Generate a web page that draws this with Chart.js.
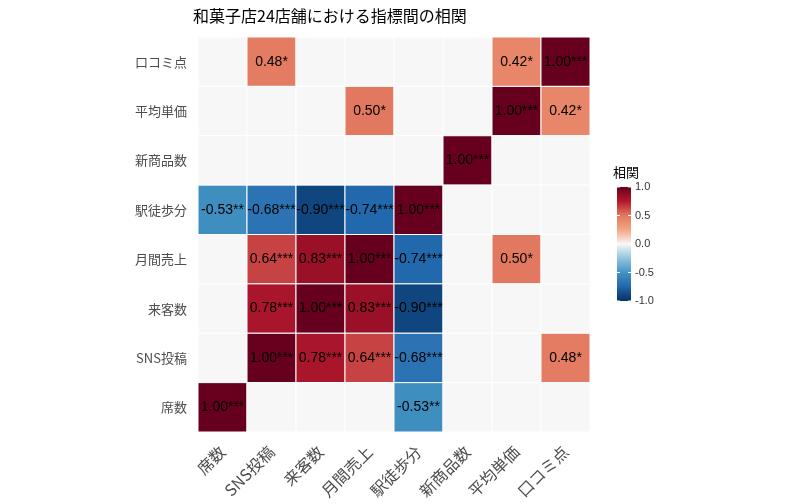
<!DOCTYPE html>
<html><head><meta charset="utf-8">
<script src="https://cdn.jsdelivr.net/npm/chart.js@4"></script>
<style>body{margin:0;background:#fff}</style>
</head><body>
<canvas id="c" width="798" height="504"></canvas>
<script>
const cols = ['席数','SNS投稿','来客数','月間売上','駅徒歩分','新商品数','平均単価','口コミ点'];
const rows = ['口コミ点','平均単価','新商品数','駅徒歩分','月間売上','来客数','SNS投稿','席数'];
// [row, col, r, stars]
const cells = [
  ['口コミ点','SNS投稿',0.48,'*'],['口コミ点','平均単価',0.42,'*'],['口コミ点','口コミ点',1.00,'***'],
  ['平均単価','月間売上',0.50,'*'],['平均単価','平均単価',1.00,'***'],['平均単価','口コミ点',0.42,'*'],
  ['新商品数','新商品数',1.00,'***'],
  ['駅徒歩分','席数',-0.53,'**'],['駅徒歩分','SNS投稿',-0.68,'***'],['駅徒歩分','来客数',-0.90,'***'],['駅徒歩分','月間売上',-0.74,'***'],['駅徒歩分','駅徒歩分',1.00,'***'],
  ['月間売上','SNS投稿',0.64,'***'],['月間売上','来客数',0.83,'***'],['月間売上','月間売上',1.00,'***'],['月間売上','駅徒歩分',-0.74,'***'],['月間売上','平均単価',0.50,'*'],
  ['来客数','SNS投稿',0.78,'***'],['来客数','来客数',1.00,'***'],['来客数','月間売上',0.83,'***'],['来客数','駅徒歩分',-0.90,'***'],
  ['SNS投稿','SNS投稿',1.00,'***'],['SNS投稿','来客数',0.78,'***'],['SNS投稿','月間売上',0.64,'***'],['SNS投稿','駅徒歩分',-0.68,'***'],['SNS投稿','口コミ点',0.48,'*'],
  ['席数','席数',1.00,'***'],['席数','駅徒歩分',-0.53,'**']
];
const legendTicks = [1.0,0.5,0.0,-0.5,-1.0];

const stops = [[-1,[5,48,97]],[-0.75,[33,102,172]],[-0.5,[67,147,195]],[-0.25,[146,197,222]],[0,[247,247,247]],
  [0.25,[244,165,130]],[0.5,[226,120,95]],[0.75,[178,24,43]],[1,[103,0,31]]];
function color(v){
  for(let i=0;i<stops.length-1;i++){
    const [a,ca]=stops[i],[b,cb]=stops[i+1];
    if(v<=b){const t=(v-a)/(b-a);return 'rgb('+ca.map((c,k)=>Math.round(c+(cb[k]-c)*t)).join(',')+')';}
  }
  return 'rgb(103,0,31)';
}

const heat = {
  id:'heat',
  beforeDatasetsDraw(chart){
    const {ctx, scales:{x,y}} = chart;
    const w = x.getPixelForValue(1)-x.getPixelForValue(0);
    const h = Math.abs(y.getPixelForValue(1)-y.getPixelForValue(0));
    const grid = {};
    cells.forEach(c=>grid[c[0]+'|'+c[1]]=c);
    ctx.save();
    rows.forEach((r,ri)=>cols.forEach((cn,ci)=>{
      const c = grid[r+'|'+cn];
      const px = x.getPixelForValue(ci), py = y.getPixelForValue(ri);
      ctx.fillStyle = c ? color(c[2]) : '#f7f7f7';
      ctx.fillRect(px-w/2,py-h/2,w,h);
      ctx.strokeStyle='#fff';ctx.lineWidth=1;
      ctx.strokeRect(px-w/2,py-h/2,w,h);
    }));
    ctx.fillStyle='#000';ctx.font='14px Arial, "Noto Sans CJK JP"';ctx.textAlign='center';ctx.textBaseline='middle';
    cells.forEach(c=>{
      ctx.fillText(c[2].toFixed(2)+c[3], x.getPixelForValue(cols.indexOf(c[1])), y.getPixelForValue(rows.indexOf(c[0])));
    });
    // title
    ctx.textAlign='left';ctx.font='16px "Noto Sans CJK JP"';ctx.fillStyle='#000';
    ctx.fillText('和菓子店24店舗における指標間の相関',193,16);
    // colourbar
    const bx=617,top=187,bot=301,bw=14;
    const g=ctx.createLinearGradient(0,bot,0,top);
    stops.forEach(s=>g.addColorStop((s[0]+1)/2,color(s[0])));
    ctx.fillStyle=g;ctx.fillRect(bx,top,bw,bot-top);
    ctx.font='13px "Noto Sans CJK JP"';ctx.fillStyle='#000';
    ctx.fillText('相関',613,172);
    ctx.font='11px Arial';ctx.fillStyle='#333';
    legendTicks.forEach(t=>{
      const py = bot-(t+1)/2*(bot-top);
      ctx.strokeStyle='#fff';ctx.beginPath();ctx.moveTo(bx,py);ctx.lineTo(bx+3,py);ctx.moveTo(bx+bw-3,py);ctx.lineTo(bx+bw,py);ctx.stroke();
      ctx.fillText(t.toFixed(1),bx+bw+4,py);
    });
    ctx.restore();
  }
};

new Chart(document.getElementById('c'),{
  type:'scatter',
  data:{datasets:[{data:[],pointRadius:0}]},
  options:{
    responsive:false,animation:false,
    layout:{padding:{top:37,right:208,left:0,bottom:0}},
    plugins:{legend:{display:false},tooltip:{enabled:false}},
    scales:{
      x:{type:'category',labels:cols,offset:true,
        grid:{display:false},border:{display:false},
        ticks:{maxRotation:45,minRotation:45,color:'#4d4d4d',font:{size:16,family:'"Noto Sans CJK JP"'},padding:2},
        afterFit(s){s.height=72;}},
      y:{type:'category',labels:rows,offset:true,
        grid:{display:false},border:{display:false},
        ticks:{color:'#4d4d4d',font:{size:13,family:'"Noto Sans CJK JP"'}},
        afterFit(s){s.width=198;}}
    }
  },
  plugins:[heat]
});
</script>
</body></html>
